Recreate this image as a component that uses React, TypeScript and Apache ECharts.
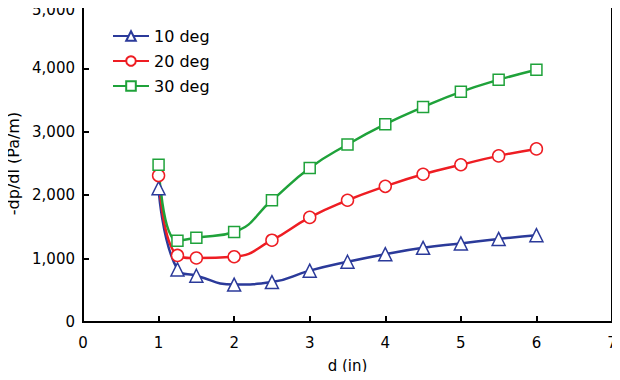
import React, { useEffect, useRef } from "react";
import * as echarts from "echarts";

const xValues = [1, 1.25, 1.5, 2, 2.5, 3, 3.5, 4, 4.5, 5, 5.5, 6];
const deg10 = [2110, 830, 730, 590, 630, 810, 950, 1070, 1170, 1240, 1310, 1370];
const deg20 = [2310, 1050, 1010, 1030, 1290, 1650, 1920, 2140, 2330, 2480, 2620, 2730];
const deg30 = [2480, 1280, 1330, 1420, 1920, 2430, 2800, 3120, 3390, 3630, 3820, 3980];
const seriesNames = ["10 deg", "20 deg", "30 deg"];

const FONT = "'DejaVu Sans', 'Liberation Sans', Arial, sans-serif";

export default function App() {
  const ref = useRef<HTMLDivElement>(null);
  useEffect(() => {
    if (!ref.current) return;
    const chart = echarts.init(ref.current, null, { renderer: "svg" });
    const mk = (name: string, vals: number[], color: string, symbol: string, size: number) => ({
      name,
      type: "line",
      data: xValues.map((x, i) => [x, vals[i]]),
      smooth: 0.5,
      symbol,
      symbolSize: size,
      showAllSymbol: true,
      lineStyle: { color, width: 2.5 },
      itemStyle: { color: "#fff", borderColor: color, borderWidth: 1.5 },
      color,
    });
    chart.setOption({
      animation: false,
      textStyle: { fontFamily: FONT },
      grid: {
        left: 83,
        right: 8,
        top: 5,
        bottom: 58,
        show: true,
        borderColor: "#000",
        borderWidth: 2,
        containLabel: false,
        outerBoundsMode: "none",
      },
      legend: {
        orient: "vertical",
        left: 107,
        top: 23,
        itemWidth: 36,
        itemHeight: 12,
        itemGap: 9,
        textStyle: { fontSize: 16, color: "#000", fontFamily: FONT },
        data: seriesNames,
      },
      xAxis: {
        type: "value",
        min: 0,
        max: 7,
        interval: 1,
        name: "d (in)",
        nameLocation: "middle",
        nameGap: 36,
        nameTextStyle: { fontSize: 15, color: "#000", fontFamily: FONT },
        axisLine: { show: true, lineStyle: { color: "#000", width: 2 } },
        axisTick: { show: true, inside: true, length: 6, lineStyle: { color: "#000", width: 2 } },
        axisLabel: { fontSize: 15, color: "#000", margin: 13, fontFamily: FONT },
        splitLine: { show: false },
      },
      yAxis: {
        type: "value",
        min: 0,
        max: 5000,
        interval: 1000,
        name: "-dp/dl (Pa/m)",
        nameLocation: "middle",
        nameGap: 53,
        nameTextStyle: { fontSize: 16, color: "#000", fontFamily: FONT },
        axisLine: { show: true, lineStyle: { color: "#000", width: 2 } },
        axisTick: { show: true, inside: true, length: 6, lineStyle: { color: "#000", width: 2 } },
        axisLabel: {
          fontSize: 15,
          lineHeight: 10,
          color: "#000",
          margin: 8,
          fontFamily: FONT,
          formatter: (v: number) => {
            const s = v.toLocaleString("en-US");
            return v === 5000 ? "\n" + s : s;
          },
        },
        splitLine: { show: false },
      },
      series: [
        mk(seriesNames[0], deg10, "#2B3A9A", "triangle", 13),
        mk(seriesNames[1], deg20, "#EE1D23", "circle", 12),
        mk(seriesNames[2], deg30, "#1FA23A", "rect", 11),
      ],
    });
    return () => chart.dispose();
  }, []);
  return <div ref={ref} style={{ width: 620, height: 380, margin: -8 }} />;
}
